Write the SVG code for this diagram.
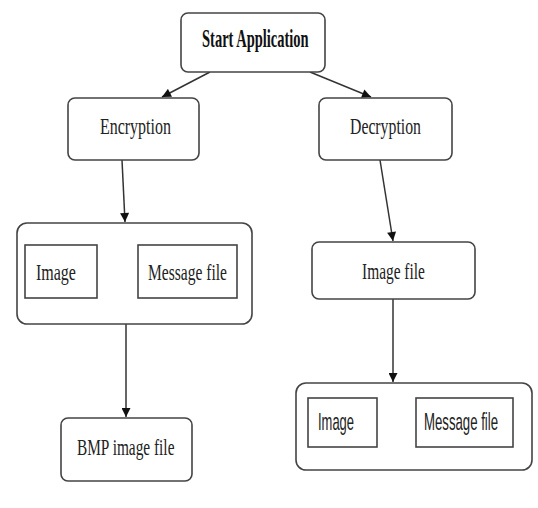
<svg xmlns="http://www.w3.org/2000/svg" width="538" height="508" viewBox="0 0 538 508">
<defs>
<style>
.box{fill:#fff;stroke:#444;stroke-width:1.6}
.sq{fill:#fff;stroke:#444;stroke-width:1.6}
.ln{fill:none;stroke:#333;stroke-width:1.5}
.t{font-family:"Liberation Serif","DejaVu Serif",serif;font-size:24px;fill:#222}
.tb{font-family:"Liberation Serif","DejaVu Serif",serif;font-size:25px;font-weight:bold;fill:#111}
.ts{font-family:"Liberation Sans","DejaVu Sans",sans-serif;font-size:24px;fill:#222}
</style>
<marker id="ah" viewBox="0 0 10 10" refX="10" refY="5" markerWidth="10" markerHeight="9" markerUnits="userSpaceOnUse" orient="auto">
<path d="M0,0 L10,5 L0,10 z" fill="#111"/>
</marker>
</defs>
<rect width="538" height="508" fill="#fff"/>
<g id="connectors">
<line class="ln" x1="210" y1="72" x2="162" y2="97" marker-end="url(#ah)"/>
<line class="ln" x1="310" y1="72" x2="371" y2="97" marker-end="url(#ah)"/>
<line class="ln" x1="122" y1="160" x2="125" y2="222" marker-end="url(#ah)"/>
<line class="ln" x1="380" y1="160" x2="393" y2="241" marker-end="url(#ah)"/>
<line class="ln" x1="126" y1="324" x2="126" y2="417" marker-end="url(#ah)"/>
<line class="ln" x1="393" y1="299" x2="393" y2="382" marker-end="url(#ah)"/>
<line class="ln" x1="97" y1="266" x2="138" y2="266"/>
</g>
<g id="start">
<rect class="box" x="181" y="13" width="144" height="59" rx="7"/>
<text class="tb" transform="translate(202,47) scale(0.58,1)">Start Application</text>
</g>
<g id="encryption">
<rect class="box" x="68" y="98" width="131" height="62" rx="7"/>
<text class="t" transform="translate(100,134) scale(0.665,1)">Encryption</text>
</g>
<g id="decryption">
<rect class="box" x="319" y="98" width="133" height="62" rx="7"/>
<text class="t" transform="translate(350,134) scale(0.657,1)">Decryption</text>
</g>
<g id="enc-group">
<rect class="box" x="17" y="223" width="235" height="101" rx="10"/>
<g id="enc-image">
<rect class="sq" x="25" y="245" width="72" height="53"/>
<text class="t" transform="translate(36,280) scale(0.667,1)">Image</text>
</g>
<g id="enc-message">
<rect class="sq" x="138" y="245" width="99" height="53"/>
<text class="t" transform="translate(148,280) scale(0.648,1)">Message file</text>
</g>
</g>
<g id="bmp">
<rect class="box" x="61" y="418" width="131" height="63" rx="7"/>
<text class="t" transform="translate(77,455) scale(0.64,1)">BMP image file</text>
</g>
<g id="imagefile">
<rect class="box" x="312" y="242" width="163" height="57" rx="7"/>
<text class="t" transform="translate(362,279) scale(0.643,1)">Image file</text>
</g>
<g id="dec-group">
<rect class="box" x="296" y="383" width="236" height="87" rx="10"/>
<g id="dec-image">
<rect class="sq" x="308" y="398" width="69" height="49"/>
<text class="ts" transform="translate(318,430) scale(0.54,1)">Image</text>
</g>
<g id="dec-message">
<rect class="sq" x="416" y="398" width="97" height="49"/>
<text class="ts" transform="translate(424,430) scale(0.55,1)">Message file</text>
</g>
</g>
</svg>
